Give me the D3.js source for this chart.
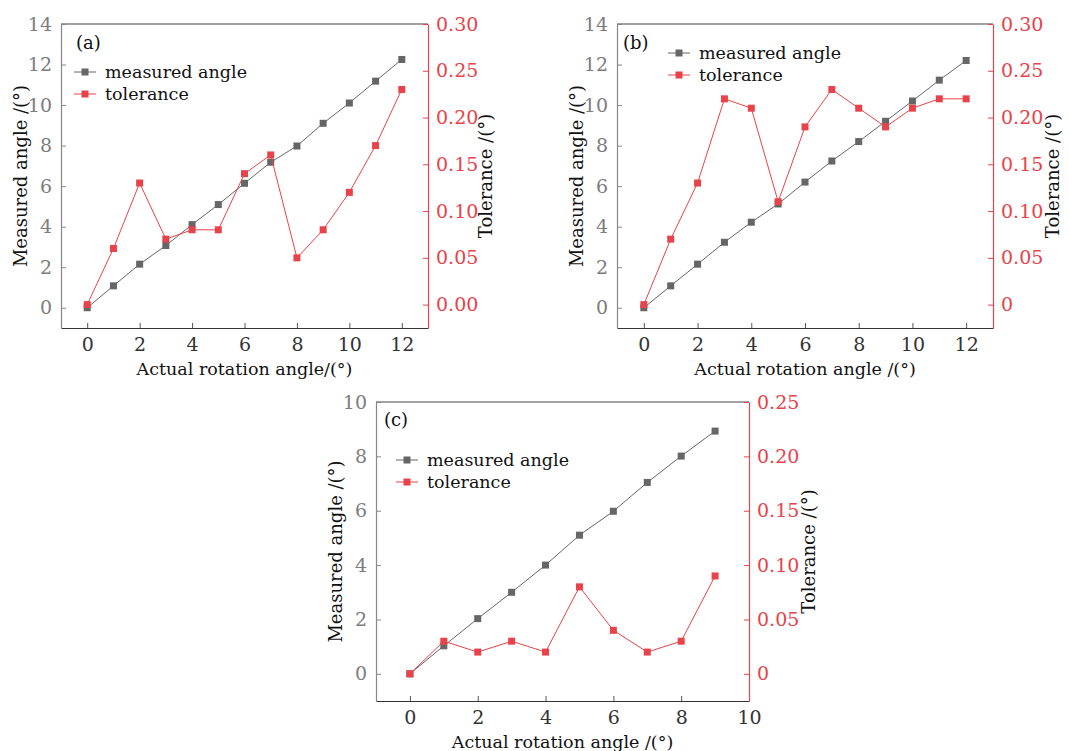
<!DOCTYPE html>
<html>
<head>
<meta charset="utf-8">
<script src="https://cdn.jsdelivr.net/npm/d3@7"></script>
<style>
  body { margin: 0; background: #fff; }
</style>
</head>
<body>
<svg id="chart" width="1069" height="751"></svg>
<script>
// rotation angles
const anglesAB = [0, 1, 2, 3, 4, 5, 6, 7, 8, 9, 10, 11, 12];
const anglesC = [0, 1, 2, 3, 4, 5, 6, 7, 8, 9];

// panel (a)
const measuredA = [0, 1.08, 2.15, 3.07, 4.1, 5.09, 6.14, 7.18, 7.98, 9.1, 10.1, 11.18, 12.25];
const toleranceA = [0, 0.06, 0.13, 0.07, 0.08, 0.08, 0.14, 0.16, 0.05, 0.08, 0.12, 0.17, 0.23];

// panel (b)
const measuredB = [0, 1.08, 2.15, 3.23, 4.22, 5.12, 6.2, 7.24, 8.2, 9.2, 10.2, 11.23, 12.2];
const toleranceB = [0, 0.07, 0.13, 0.22, 0.21, 0.11, 0.19, 0.23, 0.21, 0.19, 0.21, 0.22, 0.22];

// panel (c)
const measuredC = [0, 1.03, 2.03, 3.0, 4.0, 5.1, 5.98, 7.04, 8.01, 8.93];
const toleranceC = [0, 0.03, 0.02, 0.03, 0.02, 0.08, 0.04, 0.02, 0.03, 0.09];

// tick labels
const xTicksAB = [0, 2, 4, 6, 8, 10, 12];
const xTicksC = [0, 2, 4, 6, 8, 10];
const yTicksAB = [0, 2, 4, 6, 8, 10, 12, 14];
const yTicksC = [0, 2, 4, 6, 8, 10];
const rTicksA = ["0.00", "0.05", "0.10", "0.15", "0.20", "0.25", "0.30"];
const rTicksB = ["0", "0.05", "0.10", "0.15", "0.20", "0.25", "0.30"];
const rTicksC = ["0", "0.05", "0.10", "0.15", "0.20", "0.25"];

const gray = "#666666", red = "#e8434a";
const serif = "DejaVu Serif";
const svg = d3.select("#chart").attr("font-family", serif);

function label(g, txt, size) {
	return g.append("text")
		.attr("font-family", serif)
		.attr("font-size", size)
		.attr("fill", "#111")
		.attr("dominant-baseline", "central")
		.text(txt);
}

function drawPanel(p) {
	const g = svg.append("g");
	const x = d3.scaleLinear().domain(p.xDomain).range([p.left, p.right]);
	const y = d3.scaleLinear().domain(p.yDomain).range([p.bottom, p.top]);
	const r = d3.scaleLinear().domain(p.rDomain).range([p.bottom, p.top]);

	// frame: top line
	g.append("line")
		.attr("x1", p.left).attr("x2", p.right)
		.attr("y1", p.top).attr("y2", p.top)
		.attr("stroke", "#444").attr("stroke-width", 1.2);

	// bottom axis, ticks inward
	const xAxis = g.append("g")
		.attr("transform", `translate(0,${p.bottom})`)
		.call(d3.axisBottom(x).tickValues(p.xTicks).tickSizeInner(-5).tickSizeOuter(0).tickPadding(10))
		.attr("font-family", serif).attr("font-size", 19);
	xAxis.select(".domain").attr("stroke", "#333").attr("stroke-width", 1.2);
	xAxis.selectAll(".tick line").attr("stroke", "#555");
	xAxis.selectAll("text").attr("fill", "#333");

	// left axis
	const yAxis = g.append("g")
		.attr("transform", `translate(${p.left},0)`)
		.call(d3.axisLeft(y).tickValues(p.yTicks).tickSizeInner(-5).tickSizeOuter(0).tickPadding(9))
		.attr("font-family", serif).attr("font-size", 19);
	yAxis.select(".domain").attr("stroke", "#888").attr("stroke-width", 1.2);
	yAxis.selectAll(".tick line").attr("stroke", "#888");
	yAxis.selectAll("text").attr("fill", "#7d7d7d");

	// right axis
	const rAxis = g.append("g")
		.attr("transform", `translate(${p.right},0)`)
		.call(d3.axisRight(r).tickValues(p.rTicks.map(Number))
			.tickFormat((d, i) => p.rTicks[i]).tickSizeInner(-5).tickSizeOuter(0).tickPadding(8))
		.attr("font-family", serif).attr("font-size", 19);
	rAxis.select(".domain").attr("stroke", red).attr("stroke-width", 1.2);
	rAxis.selectAll(".tick line").attr("stroke", red);
	rAxis.selectAll("text").attr("fill", red);

	// axis titles
	label(g, "Measured angle /(°)", 18)
		.attr("transform", `translate(${p.left - 41},${(p.top + p.bottom) / 2}) rotate(-90)`)
		.attr("text-anchor", "middle");
	label(g, "Tolerance /(°)", 18)
		.attr("transform", `translate(${p.right + p.rTitleOff},${(p.top + p.bottom) / 2}) rotate(-90)`)
		.attr("text-anchor", "middle");
	label(g, p.xTitle, 17.5)
		.attr("x", (p.left + p.right) / 2).attr("y", p.bottom + 41)
		.attr("text-anchor", "middle");

	// series
	const series = [
		{values: p.measured, scale: y, color: gray},
		{values: p.tolerance, scale: r, color: red}
	];
	series.forEach(s => {
		const pts = p.angles.map((a, i) => [x(a), s.scale(s.values[i])]);
		g.append("path")
			.attr("d", d3.line()(pts))
			.attr("fill", "none").attr("stroke", s.color).attr("stroke-width", 1);
		g.append("g").selectAll("rect")
			.data(pts)
			.join("rect")
				.attr("x", d => d[0] - 3.5).attr("y", d => d[1] - 3.5)
				.attr("width", 7).attr("height", 7)
				.attr("fill", s.color);
	});

	// panel label
	label(g, p.label, 18).attr("x", p.labelX).attr("y", p.labelY);

	// legend
	const legend = [
		{name: "measured angle", color: gray},
		{name: "tolerance", color: red}
	];
	legend.forEach((d, i) => {
		const ly = p.legY + i * 22;
		g.append("line")
			.attr("x1", p.legX).attr("x2", p.legX + 22)
			.attr("y1", ly).attr("y2", ly)
			.attr("stroke", d.color).attr("stroke-width", 1);
		g.append("rect")
			.attr("x", p.legX + 11 - 3.5).attr("y", ly - 3.5)
			.attr("width", 7).attr("height", 7)
			.attr("fill", d.color);
		label(g, d.name, 17.5).attr("x", p.legX + 31).attr("y", ly);
	});
}

drawPanel({
	left: 61, right: 428, top: 24, bottom: 328,
	xDomain: [-1, 13], yDomain: [-1, 14], rDomain: [-0.025, 0.30],
	xTicks: xTicksAB, yTicks: yTicksAB, rTicks: rTicksA,
	angles: anglesAB, measured: measuredA, tolerance: toleranceA,
	xTitle: "Actual rotation angle/(°)", rTitleOff: 57,
	label: "(a)", labelX: 76, labelY: 42, legX: 74, legY: 72
});
drawPanel({
	left: 617, right: 993, top: 24, bottom: 328,
	xDomain: [-1, 13], yDomain: [-1, 14], rDomain: [-0.025, 0.30],
	xTicks: xTicksAB, yTicks: yTicksAB, rTicks: rTicksB,
	angles: anglesAB, measured: measuredB, tolerance: toleranceB,
	xTitle: "Actual rotation angle /(°)", rTitleOff: 59,
	label: "(b)", labelX: 623, labelY: 42, legX: 668, legY: 53
});
drawPanel({
	left: 376, right: 749, top: 402, bottom: 701,
	xDomain: [-1, 10], yDomain: [-1, 10], rDomain: [-0.025, 0.25],
	xTicks: xTicksC, yTicks: yTicksC, rTicks: rTicksC,
	angles: anglesC, measured: measuredC, tolerance: toleranceC,
	xTitle: "Actual rotation angle /(°)", rTitleOff: 59,
	label: "(c)", labelX: 384, labelY: 419, legX: 396, legY: 460
});
</script>
</body>
</html>
